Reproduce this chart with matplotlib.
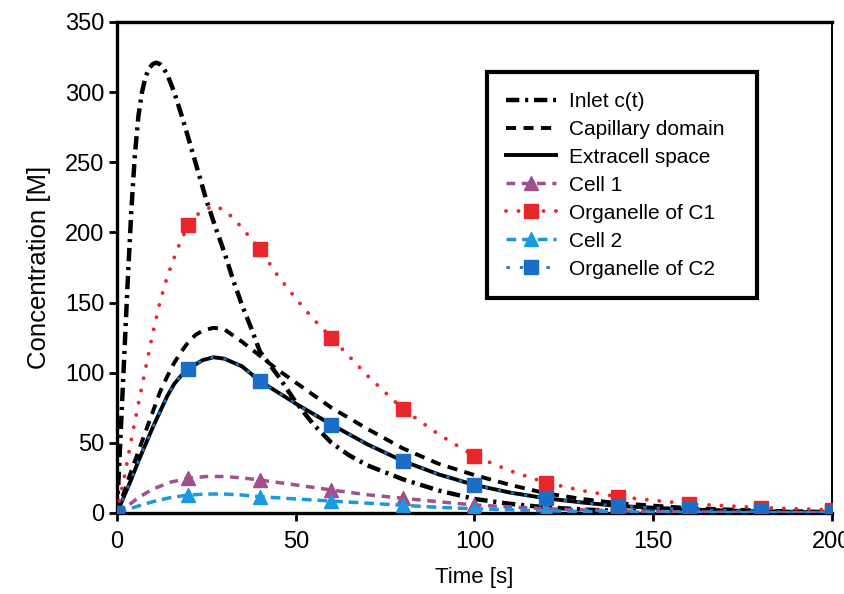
import matplotlib
matplotlib.use("Agg")
import matplotlib.pyplot as plt

plt.rcParams['font.family'] = ['Liberation Sans', 'DejaVu Sans']

# Inlet concentration c(t)
t_inlet = [0, 1, 2, 3, 4, 5, 6, 7, 8, 9, 10, 11, 12, 13, 14, 16, 18, 20, 22.5, 25,
           27.5, 30, 32.5, 35, 37.5, 40, 45, 50, 55, 60, 65, 70, 80, 90, 100, 110,
           120, 130, 140, 150, 160, 180, 200]
inlet = [0, 55, 110, 165, 215, 255, 283, 300, 311, 317, 320, 321, 320, 317, 313,
         300, 284, 267, 245, 223, 204, 186, 166, 148, 132, 115, 98, 79, 63, 50, 41,
         34, 24, 16, 10, 6.5, 4, 2.5, 1.5, 1, 0.6, 0.3, 0.1]

# Capillary domain and extracellular space
t_domain = [0, 2, 4, 6, 8, 10, 12, 14, 16, 18, 20, 22, 24, 27, 30, 35, 40, 45, 50,
            55, 60, 70, 80, 90, 100, 110, 120, 130, 140, 160, 180, 200]
capillary = [0, 15, 30, 44, 58, 72, 86, 97, 107, 115, 122, 127, 130, 132, 131, 122,
             112, 102, 93, 84, 75, 60, 46, 35, 27, 20, 14, 10, 7, 3.5, 1.7, 0.8]
extracell = [0, 12, 24, 37, 49, 61, 72, 83, 92, 98, 102.5, 106, 109, 111, 110, 104.5,
             94, 86, 78, 70.5, 63, 49, 37, 27.5, 20, 14.5, 10.5, 7.5, 5, 2.5, 1.2, 0.5]
organelle_c2 = [0, 12, 24, 37, 49, 61, 72, 83, 92, 98, 102.5, 106, 109, 111, 110, 104.5,
                94, 86, 78, 70.5, 63, 49, 37, 27.5, 20, 14.5, 10.5, 7.5, 5, 2.5, 1.2, 0.5]

# Organelle of cell 1
t_org1 = [0, 2, 4, 6, 8, 10, 12, 14, 16, 18, 20, 23, 27, 30, 33, 36, 40, 45, 50, 55,
          60, 70, 80, 90, 100, 110, 120, 130, 140, 160, 180, 200]
organelle_c1 = [0, 25, 52, 78, 103, 128, 150, 168, 182, 195, 205, 214, 219, 216, 209,
                200, 188, 169, 153, 138, 125, 98, 74, 56, 40.6, 30, 21.6, 16, 11.6,
                6.5, 3.8, 2.2]

# Cells 1 and 2
t_cell = [0, 3, 6, 10, 15, 20, 25, 30, 35, 40, 50, 60, 70, 80, 90, 100, 120, 140,
          160, 180, 200]
cell1 = [0, 5, 11, 17, 22, 24.7, 26, 26, 25, 23.5, 20, 16.4, 13, 10.5, 8, 5.7, 3,
         1.5, 0.8, 0.4, 0.2]
cell2 = [0, 2.5, 5, 8, 11, 12.8, 13.5, 13.5, 12.8, 11.6, 10, 8.5, 7, 5.5, 4, 3, 1.5,
         0.8, 0.4, 0.2, 0.1]

x_ticks = [0, 50, 100, 150, 200]
y_ticks = [0, 50, 100, 150, 200, 250, 300, 350]

PURPLE = '#a0508c'
RED = '#e8262c'
LIGHT_BLUE = '#1a98e0'
BLUE = '#1a6ec8'


def every20(ts):
    return [i for i, t in enumerate(ts) if t % 20 == 0]


fig = plt.figure(figsize=(8.44, 5.94), dpi=100)
ax = fig.add_axes([0.1386, 0.1364, 0.8472, 0.8266])

ax.plot(t_inlet, inlet, color='black', lw=3.2, dashes=(3.0, 1.3, 0.7, 1.3),
        label='Inlet c(t)', zorder=3)
ax.plot(t_domain, capillary, color='black', lw=2.8, dashes=(2.6, 1.9),
        label='Capillary domain', zorder=3)
ax.plot(t_domain, extracell, color='black', lw=2.8, label='Extracell space', zorder=3)
ax.plot(t_cell, cell1, color=PURPLE, lw=2.5, dashes=(2.5, 1.9), marker='^',
        markersize=9.5, markevery=every20(t_cell), label='Cell 1', zorder=4)
ax.plot(t_org1, organelle_c1, color=RED, lw=2.8, linestyle=(0, (0.01, 3.2)),
        dash_capstyle='round', marker='s', markersize=9.5,
        markevery=every20(t_org1), label='Organelle of C1', zorder=4)
ax.plot(t_cell, cell2, color=LIGHT_BLUE, lw=2.5, dashes=(2.8, 1.7), marker='^',
        markersize=9.5, markevery=every20(t_cell), label='Cell 2', zorder=5)
ax.plot(t_domain, organelle_c2, color=BLUE, lw=2.0, dashes=(1.2, 3.6), marker='s',
        markersize=9.5, markevery=every20(t_domain), label='Organelle of C2', zorder=5)

ax.set_xlim(0, 200)
ax.set_ylim(0, 350)
ax.set_xticks(x_ticks)
ax.set_yticks(y_ticks)
ax.tick_params(axis='both', direction='out', length=6, width=2, labelsize=17,
               color='black')
ax.tick_params(axis='y', pad=3)
ax.tick_params(axis='x', pad=7)

for side in ['left', 'bottom', 'top']:
    ax.spines[side].set_linewidth(2.4)
ax.spines['right'].set_linewidth(1.4)

ax.set_xlabel('Time [s]', fontsize=16, labelpad=10)
ax.set_ylabel('Concentration [M]', fontsize=18.5, labelpad=10)

leg = ax.legend(loc='upper left', bbox_to_anchor=(0.517, 0.424, 0.378, 0.474),
                mode='expand', fontsize=15, frameon=True, fancybox=False,
                edgecolor='black', handlelength=2.4, handletextpad=0.6,
                labelspacing=0.43, borderpad=0.95, borderaxespad=0)
leg.get_frame().set_linewidth(3.0)
leg.get_frame().set_alpha(1)

fig.savefig('out.png', dpi=100)
